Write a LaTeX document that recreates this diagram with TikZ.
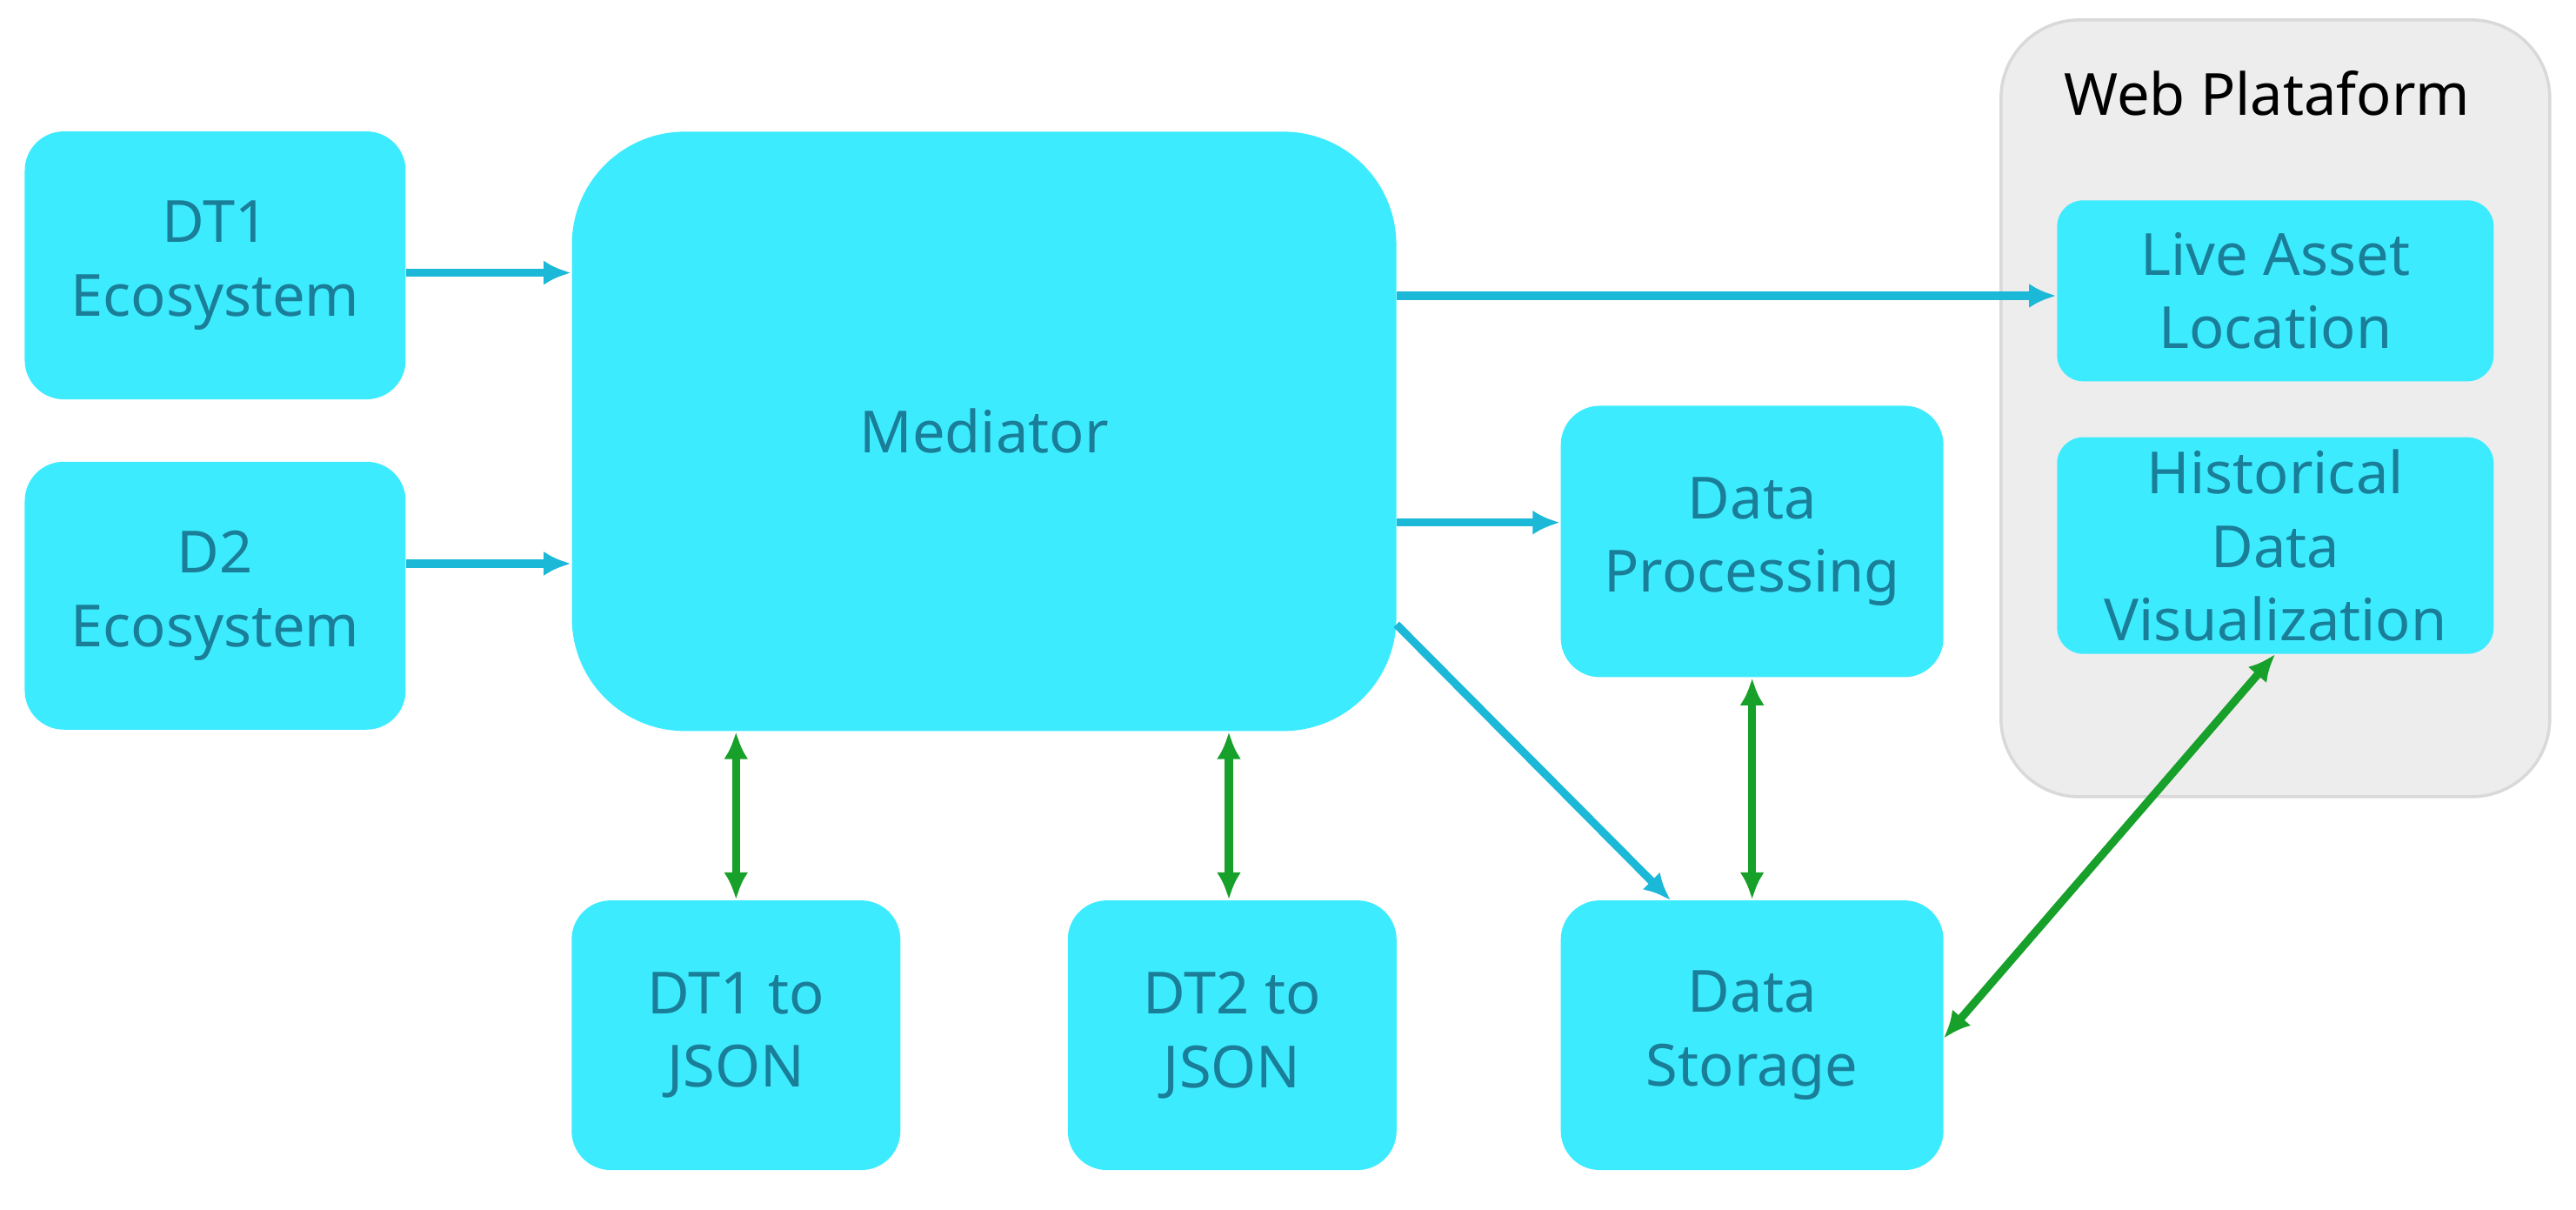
\documentclass[tikz,border=0pt]{standalone}
\usepackage{fontspec}
\setmainfont{Noto Sans}
\usetikzlibrary{arrows.meta}
\definecolor{boxc}{HTML}{3DEBFF}
\definecolor{txtc}{HTML}{1A7E98}
\definecolor{arrc}{HTML}{1CB8D8}
\definecolor{grn}{HTML}{17A02A}
\begin{document}
\begin{tikzpicture}[x=0.01889cm,y=-0.01889cm,
 box/.style={fill=boxc,draw=none,rounded corners=0.45cm,align=center,text=txtc,font=\fontsize{19}{24}\selectfont,inner sep=0},
 ca/.style={draw=arrc,line width=2.6pt,-{Latex[length=9pt,width=8pt]}},
 ga/.style={draw=grn,line width=2.6pt,{Latex[length=9pt,width=8pt]}-{Latex[length=9pt,width=8pt]}}]
\useasboundingbox (0,0) rectangle (1568,736);
\node[fill=black!7,draw=black!15,line width=1pt,rounded corners=0.9cm,minimum width=6.31cm,minimum height=8.93cm] (web) at (1385,248.5) {};
\node[text=black,font=\fontsize{19}{24}\selectfont] (webt) at (1380,57) {Web Plataform};
\node[box,minimum width=4.38cm,minimum height=3.08cm] (dt1) at (131,161.5) {DT1\\Ecosystem};
\node[box,minimum width=4.38cm,minimum height=3.08cm] (d2) at (131,362.5) {D2\\Ecosystem};
\node[box,rounded corners=1.3cm,minimum width=9.48cm,minimum height=6.89cm] (med) at (599,262.5) {Mediator};
\node[box,minimum width=3.78cm,minimum height=3.10cm] (j1) at (448,630) {DT1 to\\JSON};
\node[box,minimum width=3.78cm,minimum height=3.10cm] (j2) at (750,630) {DT2 to\\JSON};
\node[box,minimum width=4.40cm,minimum height=3.12cm] (dp) at (1066.5,329.5) {Data\\Processing};
\node[box,minimum width=4.40cm,minimum height=3.10cm] (ds) at (1066.5,630) {Data\\Storage};
\node[box,rounded corners=0.3cm,minimum width=5.02cm,minimum height=2.08cm] (live) at (1385,177) {Live Asset\\Location};
\node[box,rounded corners=0.3cm,minimum width=5.02cm,minimum height=2.49cm] (hist) at (1385,332) {Historical\\Data\\Visualization};
\draw[ca] (dt1.east |- 0,166) -- (med.west |- 0,166);
\draw[ca] (d2.east |- 0,343) -- (med.west |- 0,343);
\draw[ca] (med.east |- 0,180) -- (live.west |- 0,180);
\draw[ca] (med.east |- 0,318) -- (dp.west |- 0,318);
\coordinate (ms) at (850,380);
\coordinate (dst) at (1017,548);
\draw[ca] (ms) -- (dst);
\draw[ga] (med.south -| j1) -- (j1.north);
\draw[ga] (med.south -| 748,0) -- (j2.north -| 748,0);
\draw[ga] (dp.south) -- (ds.north);
\coordinate (dse) at (1183,632);
\coordinate (hs) at (1385,398);
\draw[ga] (dse) -- (hs);
\end{tikzpicture}
\end{document}
